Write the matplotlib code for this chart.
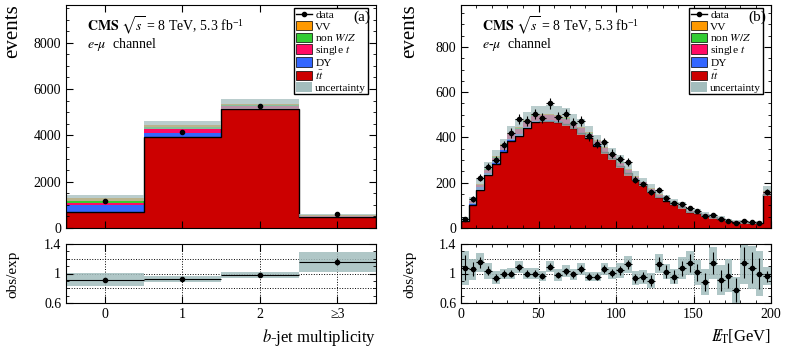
import numpy as np
import matplotlib
matplotlib.use("Agg")
import matplotlib.pyplot as plt
from matplotlib.lines import Line2D
from matplotlib.patches import Patch
from matplotlib.ticker import MultipleLocator, FixedLocator

plt.rcParams['font.family'] = 'serif'
plt.rcParams['font.serif'] = ['Liberation Serif', 'DejaVu Serif']
plt.rcParams['mathtext.fontset'] = 'stix'

# (a) b-jet multiplicity
nb_edges = [-0.5, 0.5, 1.5, 2.5, 3.5]
nb_labels = ['0', '1', '2', '≥3']
nb_data = [1180, 4140, 5250, 625]
nb_tt = [710, 3920, 5130, 470]
nb_dy = [300, 170, 30, 5]
nb_st = [60, 190, 130, 45]
nb_nonwz = [100, 100, 30, 10]
nb_vv = [120, 80, 40, 10]
nb_unc = [0.09, 0.04, 0.043, 0.135]

# (b) missing E_T, 5 GeV bins, last bin incl. overflow
met_edges = list(range(0, 205, 5))
met_data = [41, 128, 222, 271, 299, 365, 420, 481, 474, 503,
            486, 551, 490, 503, 464, 474, 406, 372, 379, 329,
            305, 291, 214, 194, 158, 169, 134, 110, 105, 88,
            73, 54, 57, 40, 33, 24, 31, 27, 23, 158]
met_tt = [32, 103, 169, 233, 284, 335, 385, 408, 441, 468,
          471, 471, 468, 458, 440, 419, 397, 364, 335, 307,
          274, 242, 214, 191, 163, 138, 121, 107, 91, 71,
          68, 57, 47, 41, 31, 28, 25, 23, 21, 151]
met_dy = [3, 9, 10, 11, 11, 10, 9, 8, 6, 5,
          4, 4, 3, 3, 3, 2, 2, 2, 2, 1,
          1, 1, 1, 1, 1, 1, 1, 0, 0, 0,
          0, 0, 0, 0, 0, 0, 0, 0, 0, 1]
met_st = [2, 6, 9, 12, 15, 17, 19, 20, 21, 22,
          22, 22, 22, 21, 20, 19, 18, 17, 15, 14,
          13, 11, 10, 9, 8, 7, 6, 5, 4, 4,
          3, 3, 2, 2, 2, 2, 1, 1, 1, 8]
met_nonwz = [1, 2, 3, 3, 4, 4, 4, 4, 4, 4,
             4, 4, 3, 3, 3, 3, 3, 2, 2, 2,
             2, 2, 1, 1, 1, 1, 1, 1, 1, 1,
             0, 0, 0, 0, 0, 0, 0, 0, 0, 1]
met_vv = [0, 1, 2, 2, 3, 3, 3, 4, 4, 4,
          4, 4, 4, 4, 4, 4, 4, 3, 3, 3,
          3, 3, 3, 2, 2, 2, 2, 2, 2, 1,
          1, 1, 1, 1, 1, 1, 1, 1, 1, 3]
met_unc = [0.23, 0.14, 0.13, 0.11, 0.09, 0.07, 0.07, 0.08, 0.075, 0.07,
           0.07, 0.075, 0.075, 0.08, 0.07, 0.08, 0.062, 0.06, 0.08, 0.076,
           0.1, 0.115, 0.095, 0.09, 0.105, 0.125, 0.1, 0.105, 0.15, 0.165,
           0.17, 0.17, 0.22, 0.2, 0.22, 0.18, 0.29, 0.29, 0.3, 0.125]

c_tt = '#cc0000'
c_dy = '#3366ff'
c_st = '#ff0a64'
c_nonwz = '#33cc33'
c_vv = '#ff9900'
c_unc = '#a3bdbd'
stack_colors = [c_tt, c_dy, c_st, c_nonwz, c_vv]


def draw(ax, axr, edges, data, comps, unc, xbars):
    edges = np.asarray(edges, float)
    centers = 0.5 * (edges[1:] + edges[:-1])
    half = 0.5 * np.diff(edges)
    bottom = np.zeros(len(data))
    for vals, col in zip(comps, stack_colors):
        top = bottom + np.asarray(vals, float)
        ax.stairs(top, edges, baseline=bottom, fill=True, color=col, lw=0)
        bottom = top
    total = bottom
    ax.stairs(np.asarray(comps[0], float), edges, color='black', lw=1.0)
    unc = np.asarray(unc)
    ax.stairs(total * (1 + unc), edges, baseline=total * (1 - unc), fill=True,
              color=c_unc, alpha=0.75, lw=0)
    data = np.asarray(data, float)
    ax.errorbar(centers, data, yerr=np.sqrt(data), xerr=half if xbars else None,
                fmt='o', color='k', ms=3, lw=0.8, capsize=0, zorder=4)

    ratio = data / total
    for y in [0.8, 1.0, 1.2]:
        axr.axhline(y, ls=':', color='k', lw=0.7, zorder=0)
    axr.stairs(ratio + unc, edges, baseline=ratio - unc, fill=True,
               color=c_unc, alpha=0.85, lw=0)
    axr.errorbar(centers, ratio, xerr=half, yerr=np.sqrt(data) / total,
                 fmt='o', color='k', ms=3, lw=0.8, capsize=0, zorder=4)


def style(ax, axr):
    for a in (ax, axr):
        a.tick_params(which='both', direction='in', top=True, right=True, labelsize=10)
        a.tick_params(which='major', length=5)
        a.tick_params(which='minor', length=2.5)
    ax.tick_params(labelbottom=False)
    axr.set_ylim(0.6, 1.4)
    axr.yaxis.set_major_locator(FixedLocator([0.6, 1.0, 1.4]))
    axr.set_yticklabels(['0.6', '1', '1.4'])
    axr.yaxis.set_minor_locator(MultipleLocator(0.1))


def legend(ax, tag):
    handles = [Line2D([], [], color='k', marker='o', ms=3, lw=1),
               Patch(fc=c_vv, ec='k', lw=0.5),
               Patch(fc=c_nonwz, ec='k', lw=0.5),
               Patch(fc=c_st, ec='k', lw=0.5),
               Patch(fc=c_dy, ec='k', lw=0.5),
               Patch(fc=c_tt, ec='k', lw=0.5),
               Patch(fc=c_unc, ec='none')]
    labels = ['data', 'VV', r'non $W/Z$', r'single $t$', 'DY', r'$t\bar{t}$', 'uncertainty']
    leg = ax.legend(handles, labels, loc='upper right', bbox_to_anchor=(0.974, 0.9865),
                    fancybox=False, edgecolor='k', framealpha=1, fontsize=8.2,
                    handlelength=1.4, handleheight=0.9, handletextpad=0.3,
                    labelspacing=0.05, borderpad=0.15, borderaxespad=0)
    leg.get_frame().set_linewidth(1)
    ax.text(0.955, 0.946, tag, ha='center', va='center', fontsize=11,
            transform=ax.transAxes, zorder=10)
    ax.text(0.068, 0.906, r'$\mathbf{CMS}$ $\sqrt{s}$ = 8 TeV, 5.3 fb$^{\mathregular{-1}}$',
            fontsize=10, va='center', transform=ax.transAxes)
    ax.text(0.068, 0.825, r'$e$-$\mu$  channel', fontsize=10, va='center',
            transform=ax.transAxes)


W, H = 789, 352
fig = plt.figure(figsize=(W / 100, H / 100), dpi=100)
ax1 = fig.add_axes([66 / W, 1 - 228 / H, 310 / W, 223 / H])
ax1r = fig.add_axes([66 / W, 1 - 303 / H, 310 / W, 59 / H])
ax2 = fig.add_axes([461 / W, 1 - 228 / H, 310 / W, 223 / H])
ax2r = fig.add_axes([461 / W, 1 - 303 / H, 310 / W, 59 / H])

draw(ax1, ax1r, nb_edges, nb_data, [nb_tt, nb_dy, nb_st, nb_nonwz, nb_vv], nb_unc, False)
draw(ax2, ax2r, met_edges, met_data, [met_tt, met_dy, met_st, met_nonwz, met_vv], met_unc, True)

style(ax1, ax1r)
style(ax2, ax2r)

# left panel axes
for a in (ax1, ax1r):
    a.set_xlim(-0.5, 3.5)
    a.set_xticks([0, 1, 2, 3])
ax1r.set_xticklabels(nb_labels)
for x in [0, 1, 2, 3]:
    ax1r.axvline(x, ls=':', color='k', lw=0.7, zorder=0)
ax1.set_ylim(0, 9630)
ax1.yaxis.set_major_locator(MultipleLocator(2000))
ax1.yaxis.set_minor_locator(MultipleLocator(500))

# right panel axes
for a in (ax2, ax2r):
    a.set_xlim(0, 200)
    a.xaxis.set_major_locator(MultipleLocator(50))
    a.xaxis.set_minor_locator(MultipleLocator(10))
for x in [50, 100, 150]:
    ax2r.axvline(x, ls=':', color='k', lw=0.7, zorder=0)
ax2.set_ylim(0, 985)
ax2.yaxis.set_major_locator(MultipleLocator(200))
ax2.yaxis.set_minor_locator(MultipleLocator(50))

legend(ax1, '(a)')
legend(ax2, '(b)')

for x0 in (13, 410):
    fig.text(x0 / W, 1 - 4 / H, 'events', rotation=90, ha='center', va='top', fontsize=15)
    fig.text(x0 / W, 1 - 274 / H, 'obs/exp', rotation=90, ha='center', va='center', fontsize=11)

fig.text(376 / W, 1 - 337 / H, r'$b$-jet multiplicity', ha='right', va='center', fontsize=12)
fig.text(771 / W, 1 - 337 / H, r'$E\!\!\!/_{\mathrm{T}}$[GeV]', ha='right', va='center', fontsize=12)

fig.savefig('out.png', dpi=100)
